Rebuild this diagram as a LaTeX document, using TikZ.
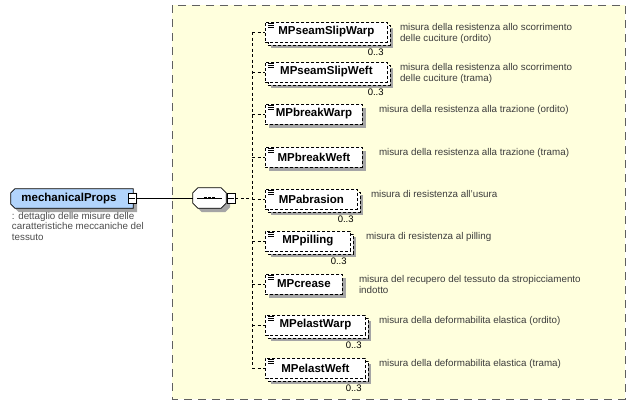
\documentclass[tikz,border=0pt]{standalone}
\usepackage{fontspec}
\setmainfont{Liberation Sans}
\usetikzlibrary{positioning,shadows}

\definecolor{areabg}{RGB}{255,255,221}
\definecolor{rootblue}{RGB}{178,212,252}
\definecolor{shadowgray}{RGB}{165,165,165}
\definecolor{framegray}{RGB}{96,96,96}
\definecolor{desctext}{RGB}{60,60,60}

% little "content" mark in the top left corner of an element box
\newcommand{\elicon}[1]{%
  \draw[line width=0.5pt, solid] ([shift={(3,2)}]#1.north west) -- ++(6,0)
    ([shift={(3,3.8)}]#1.north west) -- ++(6,0)
    ([shift={(3,5.6)}]#1.north west) -- ++(6,0);}

\begin{document}
\begin{tikzpicture}[x=1pt, y=-1pt,
  elem/.style={draw, line width=0.8pt, dash pattern=on 3pt off 2pt, fill=white,
    anchor=west, minimum height=20pt, inner sep=0pt,
    font=\fontsize{11.5}{13}\selectfont\bfseries},
  single/.style={elem,
    general shadow={fill=shadowgray, shadow xshift=4pt, shadow yshift=-4pt}},
  multi/.style={elem,
    general shadow={fill=shadowgray, shadow xshift=6pt, shadow yshift=-6pt},
    general shadow={fill=white, draw=black, shadow xshift=3pt, shadow yshift=-3pt}},
  desc/.style={anchor=north west, align=left, inner sep=1pt, text=desctext,
    font=\fontsize{9.8}{10.6}\selectfont},
  card/.style={anchor=north east, inner sep=0pt, font=\fontsize{9.5}{10}\selectfont},
  branch/.style={line width=0.7pt, dash pattern=on 3pt off 2.5pt},
  minusbox/.style={draw, fill=white, line width=0.7pt, minimum width=8pt,
    minimum height=10pt, inner sep=0pt},
  boxshadow/.style={general shadow={fill=shadowgray, shadow xshift=4pt, shadow yshift=-4pt}},
]
  \useasboundingbox (0,0) rectangle (640,408);

  % sequence area
  \draw[framegray, line width=0.8pt, dash pattern=on 8pt off 6pt, fill=areabg]
    (172,5) rectangle (625,399);

  % root element
  \node[minimum width=122pt, minimum height=19pt, inner sep=0pt] (root) at (72,198.5) {};
  \draw[line width=0.8pt, fill=rootblue, boxshadow]
    ([shift={(4,0)}]root.north west) -- (root.north east) -- (root.south east)
    -- ([shift={(4,0)}]root.south west) -- ([shift={(0,-4)}]root.south west)
    -- ([shift={(0,4)}]root.north west) -- cycle;
  \node[font=\fontsize{11.5}{13}\selectfont\bfseries] (rootLbl) at ([xshift=-3pt]root.center) {mechanicalProps};
  \node[minusbox] (rootMinus) at (132,198) {};
  \draw[line width=0.7pt] ([xshift=1.5pt]rootMinus.west) -- ([xshift=-1.5pt]rootMinus.east);
  \node[desc, text=black!70] (rootDesc) at ([shift={(0,2.5)}]root.south west)
    {: dettaglio delle misure delle\\caratteristiche meccaniche del\\tessuto};

  % sequence compositor
  \node[minimum width=33pt, minimum height=20pt, inner sep=0pt] (seq) at (209.5,198) {};
  \draw[line width=0.8pt, fill=white, boxshadow]
    ([shift={(5,0)}]seq.north west) -- ([shift={(-5,0)}]seq.north east)
    -- ([shift={(0,5)}]seq.north east) -- ([shift={(0,-5)}]seq.south east)
    -- ([shift={(-5,0)}]seq.south east) -- ([shift={(5,0)}]seq.south west)
    -- ([shift={(0,-5)}]seq.south west) -- ([shift={(0,5)}]seq.north west) -- cycle;
  \draw[line width=0.8pt] ([xshift=4pt]seq.west) -- ([xshift=-4pt]seq.east);
  \fill ([xshift=-4pt]seq.center) +(-1.3,-1.3) rectangle +(1.3,1.3);
  \fill (seq.center) +(-1.3,-1.3) rectangle +(1.3,1.3);
  \fill ([xshift=4pt]seq.center) +(-1.3,-1.3) rectangle +(1.3,1.3);
  \node[minusbox, right=0.5pt of seq] (seqMinus) {};
  \draw[line width=0.7pt] ([xshift=1.5pt]seqMinus.west) -- ([xshift=-1.5pt]seqMinus.east);

  \draw[line width=0.8pt] (rootMinus.east) -- (seq.west);
  \coordinate (spine) at (252,198);

  % child elements
  \node[multi,  minimum width=122pt] (mpSlipWarp)  at (265,32)  {MPseamSlipWarp};
  \node[multi,  minimum width=122pt] (mpSlipWeft)  at (265,72)  {MPseamSlipWeft};
  \node[single, minimum width=97pt]  (mpBreakWarp) at (265,114) {MPbreakWarp};
  \node[single, minimum width=97pt]  (mpBreakWeft) at (265,157) {MPbreakWeft};
  \node[multi,  minimum width=92pt]  (mpAbrasion)  at (265,199) {MPabrasion};
  \node[multi,  minimum width=85pt]  (mpPilling)   at (265,241) {MPpilling};
  \node[single, minimum width=77pt]  (mpCrease)    at (265,284) {MPcrease};
  \node[multi,  minimum width=100pt] (mpElastWarp) at (265,325) {MPelastWarp};
  \node[multi,  minimum width=100pt] (mpElastWeft) at (265,368) {MPelastWeft};

  \elicon{mpSlipWarp}
  \elicon{mpSlipWeft}
  \elicon{mpBreakWarp}
  \elicon{mpBreakWeft}
  \elicon{mpAbrasion}
  \elicon{mpPilling}
  \elicon{mpCrease}
  \elicon{mpElastWarp}
  \elicon{mpElastWeft}

  % connectors
  \draw[branch] (seqMinus.east) -- (spine);
  \draw[branch] (mpSlipWarp.west -| spine) -- (mpElastWeft.west -| spine);
  \draw[branch] (mpSlipWarp.west -| spine)  -- (mpSlipWarp.west);
  \draw[branch] (mpSlipWeft.west -| spine)  -- (mpSlipWeft.west);
  \draw[branch] (mpBreakWarp.west -| spine) -- (mpBreakWarp.west);
  \draw[branch] (mpBreakWeft.west -| spine) -- (mpBreakWeft.west);
  \draw[branch] (mpAbrasion.west -| spine)  -- (mpAbrasion.west);
  \draw[branch] (mpPilling.west -| spine)   -- (mpPilling.west);
  \draw[branch] (mpCrease.west -| spine)    -- (mpCrease.west);
  \draw[branch] (mpElastWarp.west -| spine) -- (mpElastWarp.west);
  \draw[branch] (mpElastWeft.west -| spine) -- (mpElastWeft.west);

  % occurrences
  \node[card] (cSlipWarp)  at ([shift={(-4,6.5)}]mpSlipWarp.south east)  {0..3};
  \node[card] (cSlipWeft)  at ([shift={(-4,6.5)}]mpSlipWeft.south east)  {0..3};
  \node[card] (cAbrasion)  at ([shift={(-4,6.5)}]mpAbrasion.south east)  {0..3};
  \node[card] (cPilling)   at ([shift={(-4,6.5)}]mpPilling.south east)   {0..3};
  \node[card] (cElastWarp) at ([shift={(-4,6.5)}]mpElastWarp.south east) {0..3};
  \node[card] (cElastWeft) at ([shift={(-4,6.5)}]mpElastWeft.south east) {0..3};

  % annotations
  \node[desc] (dSlipWarp)  at ([shift={(11,1)}]mpSlipWarp.north east)
    {misura della resistenza allo scorrimento\\delle cuciture (ordito)};
  \node[desc] (dSlipWeft)  at ([shift={(11,1)}]mpSlipWeft.north east)
    {misura della resistenza allo scorrimento\\delle cuciture (trama)};
  \node[desc] (dBreakWarp) at ([shift={(15,1)}]mpBreakWarp.north east)
    {misura della resistenza alla trazione (ordito)};
  \node[desc] (dBreakWeft) at ([shift={(15,1)}]mpBreakWeft.north east)
    {misura della resistenza alla trazione (trama)};
  \node[desc] (dAbrasion)  at ([shift={(12,1)}]mpAbrasion.north east)
    {misura di resistenza all'usura};
  \node[desc] (dPilling)   at ([shift={(14,1)}]mpPilling.north east)
    {misura di resistenza al pilling};
  \node[desc] (dCrease)    at ([shift={(15,1)}]mpCrease.north east)
    {misura del recupero del tessuto da stropicciamento\\indotto};
  \node[desc] (dElastWarp) at ([shift={(12,1)}]mpElastWarp.north east)
    {misura della deformabilita elastica (ordito)};
  \node[desc] (dElastWeft) at ([shift={(12,1)}]mpElastWeft.north east)
    {misura della deformabilita elastica (trama)};
\end{tikzpicture}
\end{document}
